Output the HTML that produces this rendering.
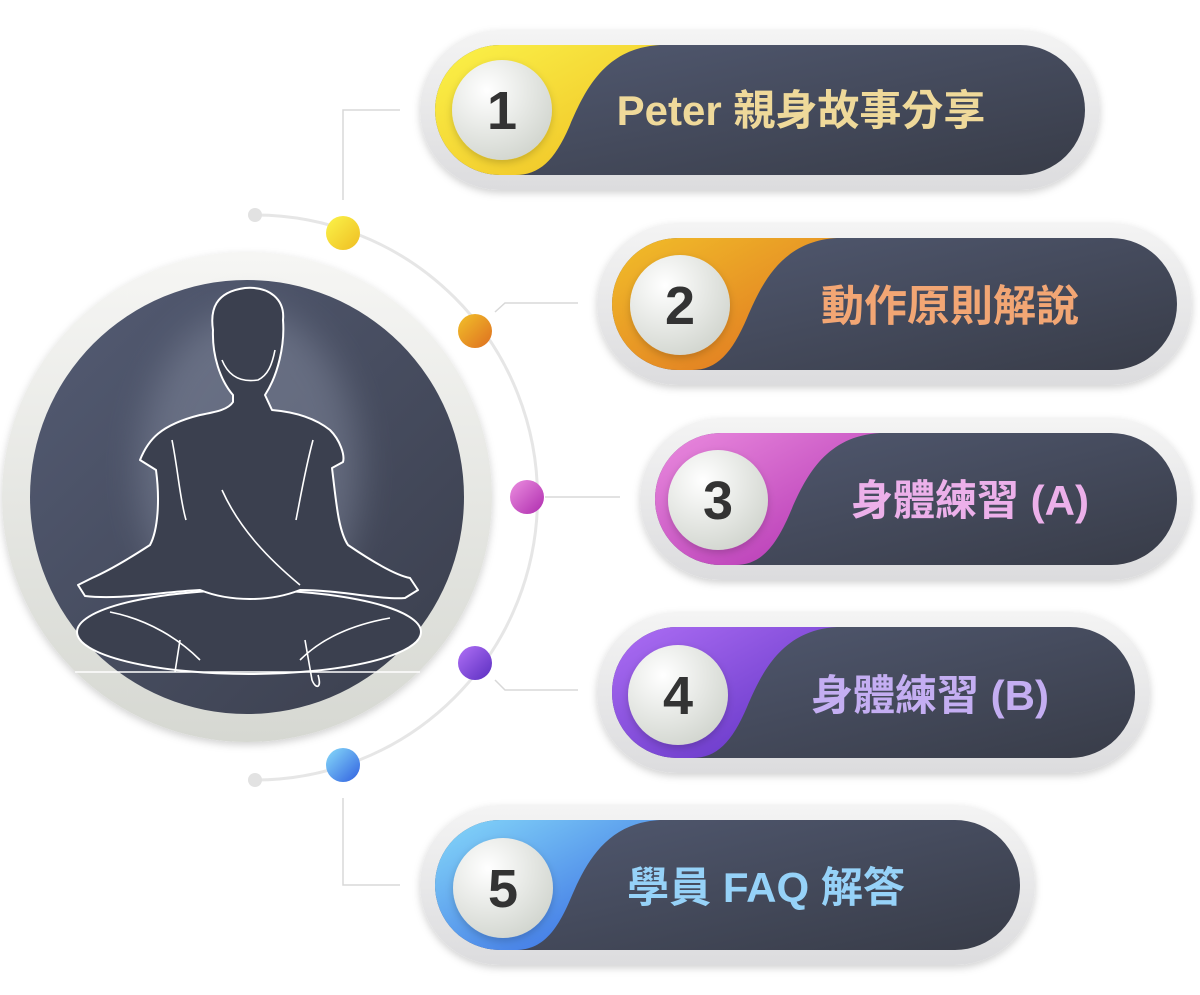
<!DOCTYPE html>
<html><head><meta charset="utf-8"><style>
html,body{margin:0;padding:0;background:#fff;}
svg{display:block;}
text{font-family:"Liberation Sans","Noto Sans CJK TC",sans-serif;font-weight:bold;}
</style></head><body>
<svg width="1200" height="995" viewBox="0 0 1200 995" xmlns="http://www.w3.org/2000/svg">
<defs>
<linearGradient id="dark" x1="0" y1="0" x2="1" y2="1"><stop offset="0" stop-color="#525a72"/><stop offset="1" stop-color="#383c48"/></linearGradient>
<linearGradient id="ring" x1="0" y1="0" x2="0" y2="1"><stop offset="0" stop-color="#f4f4f4"/><stop offset="1" stop-color="#dcdcde"/></linearGradient>
<radialGradient id="ball" cx="0.35" cy="0.3" r="0.8"><stop offset="0" stop-color="#ffffff"/><stop offset="1" stop-color="#cfd3cc"/></radialGradient>
<linearGradient id="g1" x1="0" y1="0" x2="1" y2="1"><stop offset="0" stop-color="#fbf44a"/><stop offset="1" stop-color="#efbd22"/></linearGradient>
<linearGradient id="g2" x1="0" y1="0" x2="1" y2="1"><stop offset="0" stop-color="#f2c12a"/><stop offset="1" stop-color="#de6e20"/></linearGradient>
<linearGradient id="g3" x1="0" y1="0" x2="1" y2="1"><stop offset="0" stop-color="#ec8ee0"/><stop offset="1" stop-color="#ae2cae"/></linearGradient>
<linearGradient id="g4" x1="0" y1="0" x2="1" y2="1"><stop offset="0" stop-color="#b070f6"/><stop offset="1" stop-color="#5a2ec0"/></linearGradient>
<linearGradient id="g5" x1="0" y1="0" x2="1" y2="1"><stop offset="0" stop-color="#88dcfa"/><stop offset="1" stop-color="#3060e0"/></linearGradient>
<linearGradient id="bigdark" x1="0" y1="0" x2="1" y2="1"><stop offset="0" stop-color="#545c74"/><stop offset="1" stop-color="#3a3e4c"/></linearGradient>
<linearGradient id="bigring" x1="0" y1="0" x2="0" y2="1"><stop offset="0" stop-color="#f6f6f4"/><stop offset="1" stop-color="#d6d8d2"/></linearGradient>
<filter id="sh" x="-10%" y="-20%" width="120%" height="140%"><feDropShadow dx="0" dy="3" stdDeviation="4" flood-color="#000" flood-opacity="0.18"/></filter>
<filter id="glow" x="-30%" y="-30%" width="160%" height="160%"><feGaussianBlur stdDeviation="18"/></filter>
</defs>

<path d="M255,215 A282,282 0 0 1 255,780" fill="none" stroke="#e6e6e6" stroke-width="3"/>
<circle cx="255" cy="215" r="7" fill="#e2e2e2"/>
<circle cx="255" cy="780" r="7" fill="#e2e2e2"/>
<g fill="none" stroke="#d8d8d8" stroke-width="1.5">
<path d="M343,200 V110 H400"/>
<path d="M495,312 L505,303 H578"/>
<path d="M545,497 H620"/>
<path d="M495,680 L505,690 H578"/>
<path d="M343,798 V885 H400"/>
</g>
<circle cx="343" cy="233" r="17" fill="url(#g1)"/>
<circle cx="475" cy="331" r="17" fill="url(#g2)"/>
<circle cx="527" cy="497" r="17" fill="url(#g3)"/>
<circle cx="475" cy="663" r="17" fill="url(#g4)"/>
<circle cx="343" cy="765" r="17" fill="url(#g5)"/>

<circle cx="247" cy="497" r="245" fill="url(#bigring)" filter="url(#sh)"/>
<circle cx="247" cy="497" r="217" fill="url(#bigdark)"/>
<g filter="url(#glow)" opacity="0.45"><ellipse cx="249" cy="470" rx="110" ry="160" fill="#8a92a6"/></g>
<g fill="#3b404f" stroke="#ffffff" stroke-width="2" stroke-linejoin="round">
<ellipse cx="249" cy="632" rx="172" ry="42"/>
<path d="M233,395 C220,380 212,355 213,330 C210,310 215,292 245,288 C270,286 285,300 283,320 C285,345 278,375 265,395 L272,410 C295,412 315,418 330,430 C340,440 345,455 343,462 L332,468 C336,500 338,530 348,545 C370,560 395,575 410,578 L418,590 L405,598 C380,600 340,590 300,590 C270,602 230,602 200,590 C160,592 120,600 85,596 L78,585 L92,578 C110,570 130,558 150,545 C158,530 160,500 156,470 L140,460 C148,440 160,425 200,415 C215,412 228,410 233,402 Z"/>
</g>
<g fill="none" stroke="#ffffff" stroke-width="1.6">
<path d="M222,360 C230,380 245,382 258,380 C268,375 272,365 275,350"/>
<path d="M172,440 C178,470 180,500 186,520"/>
<path d="M313,440 C305,470 300,500 296,520"/>
<path d="M222,490 C240,530 270,560 300,585"/>
<path d="M110,612 C150,620 180,640 200,660 M390,618 C350,625 320,640 300,660"/>
<path d="M180,640 L175,672 M305,640 L312,680 C316,690 322,688 318,675"/>
<path d="M75,672 H420"/>
</g>

<g transform="translate(420,30)">
<rect x="0" y="0" width="680" height="160" rx="80" fill="url(#ring)" filter="url(#sh)"/>
<clipPath id="c1"><rect x="15" y="15" width="650" height="130" rx="65"/></clipPath>
<rect x="15" y="15" width="650" height="130" rx="65" fill="url(#dark)"/>
<path clip-path="url(#c1)" d="M0,15 H240 C185,18 165,60 150,95 C135,130 120,145 95,145 H0 Z" fill="url(#g1)"/>
<circle cx="82" cy="80" r="50" fill="url(#ball)" filter="url(#sh)"/>
<text x="82" y="99" font-size="54" fill="#333" text-anchor="middle">1</text>
<text x="381" y="95" font-size="42" fill="#efd99a" text-anchor="middle">Peter 親身故事分享</text>
</g>
<g transform="translate(597,223)">
<rect x="0" y="0" width="595" height="162" rx="81" fill="url(#ring)" filter="url(#sh)"/>
<clipPath id="c2"><rect x="15" y="15" width="565" height="132" rx="66"/></clipPath>
<rect x="15" y="15" width="565" height="132" rx="66" fill="url(#dark)"/>
<path clip-path="url(#c2)" d="M0,15 H240 C185,18 165,60 150,95 C135,130 120,147 95,147 H0 Z" fill="url(#g2)"/>
<circle cx="83" cy="82" r="50" fill="url(#ball)" filter="url(#sh)"/>
<text x="83" y="101" font-size="54" fill="#333" text-anchor="middle">2</text>
<text x="353" y="98" font-size="43" fill="#f2a674" text-anchor="middle">動作原則解說</text>
</g>
<g transform="translate(640,418)">
<rect x="0" y="0" width="552" height="162" rx="81" fill="url(#ring)" filter="url(#sh)"/>
<clipPath id="c3"><rect x="15" y="15" width="522" height="132" rx="66"/></clipPath>
<rect x="15" y="15" width="522" height="132" rx="66" fill="url(#dark)"/>
<path clip-path="url(#c3)" d="M0,15 H240 C185,18 165,60 150,95 C135,130 120,147 95,147 H0 Z" fill="url(#g3)"/>
<circle cx="78" cy="82" r="50" fill="url(#ball)" filter="url(#sh)"/>
<text x="78" y="101" font-size="54" fill="#333" text-anchor="middle">3</text>
<text x="330" y="97" font-size="42" fill="#ecb0ea" text-anchor="middle">身體練習 (A)</text>
</g>
<g transform="translate(597,612)">
<rect x="0" y="0" width="553" height="161" rx="80" fill="url(#ring)" filter="url(#sh)"/>
<clipPath id="c4"><rect x="15" y="15" width="523" height="131" rx="65"/></clipPath>
<rect x="15" y="15" width="523" height="131" rx="65" fill="url(#dark)"/>
<path clip-path="url(#c4)" d="M0,15 H240 C185,18 165,60 150,95 C135,130 120,146 95,146 H0 Z" fill="url(#g4)"/>
<circle cx="81" cy="83" r="50" fill="url(#ball)" filter="url(#sh)"/>
<text x="81" y="102" font-size="54" fill="#333" text-anchor="middle">4</text>
<text x="333" y="98" font-size="42" fill="#c4aef2" text-anchor="middle">身體練習 (B)</text>
</g>
<g transform="translate(420,805)">
<rect x="0" y="0" width="615" height="160" rx="80" fill="url(#ring)" filter="url(#sh)"/>
<clipPath id="c5"><rect x="15" y="15" width="585" height="130" rx="65"/></clipPath>
<rect x="15" y="15" width="585" height="130" rx="65" fill="url(#dark)"/>
<path clip-path="url(#c5)" d="M0,15 H240 C185,18 165,60 150,95 C135,130 120,145 95,145 H0 Z" fill="url(#g5)"/>
<circle cx="83" cy="83" r="50" fill="url(#ball)" filter="url(#sh)"/>
<text x="83" y="102" font-size="54" fill="#333" text-anchor="middle">5</text>
<text x="346" y="97" font-size="42" fill="#96d2f8" text-anchor="middle">學員 FAQ 解答</text>
</g>
</svg>
</body></html>
